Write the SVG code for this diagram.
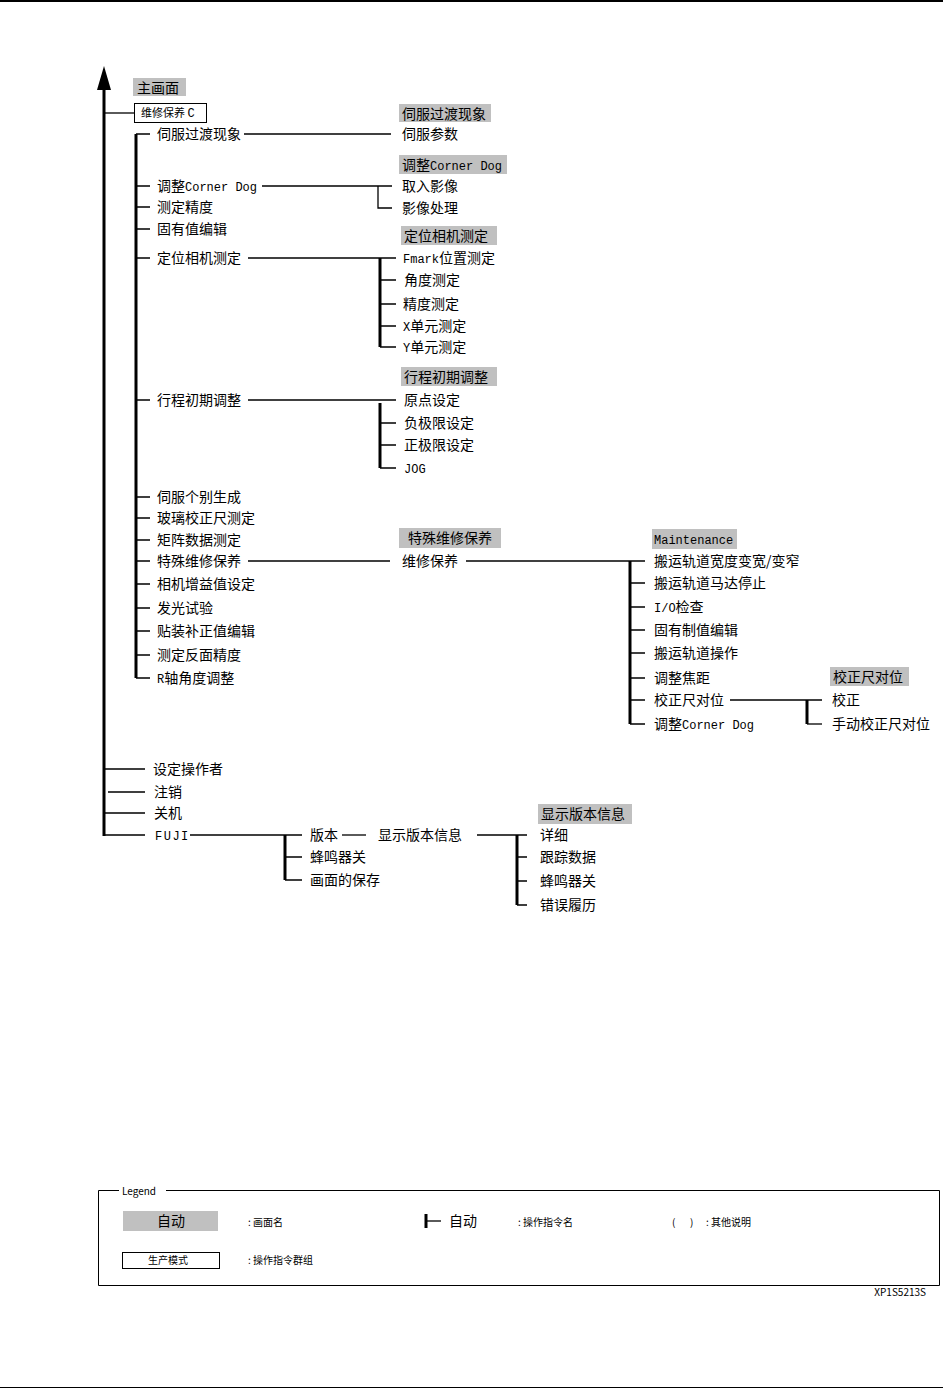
<svg xmlns="http://www.w3.org/2000/svg" width="943" height="1391" viewBox="0 0 943 1391">
<style>
text{font-family:"Noto Sans CJK SC","Liberation Sans",sans-serif;font-size:14px;fill:#000}
.m{font-family:"Liberation Mono","Noto Sans CJK SC",monospace;font-size:12px}
.s{font-size:11px}
.xs{font-size:10px}
.g{fill:#c0c0c0}
.w{fill:#fff;stroke:#000;stroke-width:1}
.t{stroke:#000;stroke-width:1.3;fill:none}
.k{stroke:#000;stroke-width:3;fill:none}
</style>
<rect width="943" height="1391" fill="#fff"/>
<rect x="0" y="0" width="943" height="2" fill="#000"/>
<rect x="0" y="1387" width="943" height="1" fill="#000"/>

<g id="connectors">
  <line class="k" x1="104" y1="88" x2="104" y2="836"/>
  <polygon points="104,66 97,90 111,90" fill="#000"/>
  <line class="t" x1="104" y1="113" x2="134" y2="113"/>
  <line class="k" x1="136" y1="134" x2="136" y2="678"/>
  <path class="t" d="M136,134H150M136,186H150M136,207H150M136,229H150M136,258H150M136,400H150M136,497H150M136,518H150M136,540H150M136,561H150M136,584H150M136,608H150M136,631H150M136,655H150M136,678H150"/>
  <line class="t" x1="244" y1="134" x2="391" y2="134"/>
  <line class="t" x1="262" y1="186" x2="392" y2="186"/>
  <path class="t" d="M378,186V208H392"/>
  <line class="t" x1="248" y1="258" x2="396" y2="258"/>
  <line class="k" x1="380" y1="258" x2="380" y2="347"/>
  <path class="t" d="M380,280H396M380,304H396M380,326H396M380,347H396"/>
  <line class="t" x1="248" y1="400" x2="396" y2="400"/>
  <line class="k" x1="380" y1="403" x2="380" y2="468"/>
  <path class="t" d="M380,423H396M380,445H396M380,468H396"/>
  <line class="t" x1="248" y1="561" x2="390" y2="561"/>
  <line class="t" x1="466" y1="561" x2="645" y2="561"/>
  <line class="k" x1="630" y1="561" x2="630" y2="724"/>
  <path class="t" d="M630,583H645M630,607H645M630,630H645M630,653H645M630,678H645M630,700H645M630,724H645"/>
  <line class="t" x1="730" y1="700" x2="822" y2="700"/>
  <line class="k" x1="807" y1="700" x2="807" y2="724"/>
  <path class="t" d="M807,724H822"/>
  <path class="t" d="M104,769H145M108,792H145M104,813H145M104,835H145"/>
  <line class="t" x1="190" y1="835" x2="302" y2="835"/>
  <line class="k" x1="285" y1="835" x2="285" y2="880"/>
  <path class="t" d="M285,857H302M285,880H302"/>
  <line class="t" x1="342" y1="835" x2="366" y2="835"/>
  <line class="t" x1="477" y1="835" x2="527" y2="835"/>
  <line class="k" x1="517" y1="835" x2="517" y2="905"/>
  <path class="t" d="M517,857H527M517,881H527M517,905H527"/>
</g>

<g id="main-screen"><rect class="g" x="133" y="78" width="53" height="18"/><text x="137" y="93">主画面</text></g>
<g id="maint-c"><rect class="w" x="134.5" y="103.5" width="72" height="19"/><text class="s" x="141" y="117">维修保养 <tspan class="m" font-size="10">C</tspan></text></g>

<g id="level1">
  <text x="157" y="139">伺服过渡现象</text>
  <text x="157" y="191">调整<tspan class="m">Corner Dog</tspan></text>
  <text x="157" y="212">测定精度</text>
  <text x="157" y="234">固有值编辑</text>
  <text x="157" y="263">定位相机测定</text>
  <text x="157" y="405">行程初期调整</text>
  <text x="157" y="502">伺服个别生成</text>
  <text x="157" y="523">玻璃校正尺测定</text>
  <text x="157" y="545">矩阵数据测定</text>
  <text x="157" y="566">特殊维修保养</text>
  <text x="157" y="589">相机增益值设定</text>
  <text x="157" y="613">发光试验</text>
  <text x="157" y="636">贴装补正值编辑</text>
  <text x="157" y="660">测定反面精度</text>
  <text x="157" y="683"><tspan class="m">R</tspan>轴角度调整</text>
</g>

<g id="servo"><rect class="g" x="399" y="104" width="92" height="18"/><text x="402" y="119">伺服过渡现象</text><text x="402" y="139">伺服参数</text></g>
<g id="cornerdog"><rect class="g" x="399" y="155" width="108" height="19"/><text x="402" y="170">调整<tspan class="m">Corner Dog</tspan></text><text x="402" y="191">取入影像</text><text x="402" y="213">影像处理</text></g>
<g id="camera"><rect class="g" x="401" y="226" width="96" height="19"/><text x="404" y="241">定位相机测定</text>
  <text x="403" y="263"><tspan class="m">Fmark</tspan>位置测定</text><text x="404" y="285">角度测定</text><text x="403" y="309">精度测定</text><text x="403" y="331"><tspan class="m">X</tspan>单元测定</text><text x="403" y="352"><tspan class="m">Y</tspan>单元测定</text></g>
<g id="stroke"><rect class="g" x="401" y="367" width="96" height="19"/><text x="404" y="382">行程初期调整</text>
  <text x="404" y="405">原点设定</text><text x="404" y="428">负极限设定</text><text x="404" y="450">正极限设定</text><text class="m" x="404" y="473">JOG</text></g>
<g id="special"><rect class="g" x="399" y="528" width="102" height="20"/><text x="408" y="543">特殊维修保养</text><text x="402" y="566">维修保养</text></g>
<g id="maintenance"><rect class="g" x="652" y="529" width="85" height="20"/><text class="m" x="654" y="544">Maintenance</text>
  <text x="654" y="566">搬运轨道宽度变宽/变窄</text><text x="654" y="588">搬运轨道马达停止</text><text x="654" y="612"><tspan class="m">I/O</tspan>检查</text><text x="654" y="635">固有制值编辑</text><text x="654" y="658">搬运轨道操作</text><text x="654" y="683">调整焦距</text><text x="654" y="705">校正尺对位</text><text x="654" y="729">调整<tspan class="m">Corner Dog</tspan></text></g>
<g id="scale"><rect class="g" x="830" y="667" width="79" height="19"/><text x="833" y="682">校正尺对位</text><text x="832" y="705">校正</text><text x="832" y="729">手动校正尺对位</text></g>

<g id="bottom">
  <text x="153" y="774">设定操作者</text><text x="154" y="797">注销</text><text x="154" y="818">关机</text><text class="m" x="155" y="840" letter-spacing="1.5">FUJI</text>
</g>
<g id="fuji"><text x="310" y="840">版本</text><text x="310" y="862">蜂鸣器关</text><text x="310" y="885">画面的保存</text><text x="378" y="840">显示版本信息</text></g>
<g id="version"><rect class="g" x="538" y="804" width="94" height="20"/><text x="541" y="819">显示版本信息</text>
  <text x="540" y="840">详细</text><text x="540" y="862">跟踪数据</text><text x="540" y="886">蜂鸣器关</text><text x="540" y="910">错误履历</text></g>

<g id="legend">
  <path d="M119,1190.5H98.5V1285.5H939.5V1190.5H166" fill="none" stroke="#000" stroke-width="1"/>
  <text class="xs" x="122" y="1195">Legend</text>
  <rect class="g" x="123" y="1211" width="95" height="20"/><text x="157" y="1226">自动</text>
  <text class="xs" x="248" y="1226">:  画面名</text>
  <rect class="w" x="122.5" y="1252.5" width="97" height="16"/><text class="xs" x="148" y="1264">生产模式</text>
  <text class="xs" x="248" y="1264">:  操作指令群组</text>
  <path d="M426,1214V1228" stroke="#000" stroke-width="3"/><path d="M426,1221H441" stroke="#000" stroke-width="1.3"/>
  <text x="449" y="1226">自动</text>
  <text class="xs" x="518" y="1226">:  操作指令名</text>
  <text class="xs" x="672" y="1226">(</text><text class="xs" x="690" y="1226">)</text><text class="xs" x="706" y="1226">:  其他说明</text>
  <text class="xs" x="926" y="1296" text-anchor="end">XP1S5213S</text>
</g>
</svg>
